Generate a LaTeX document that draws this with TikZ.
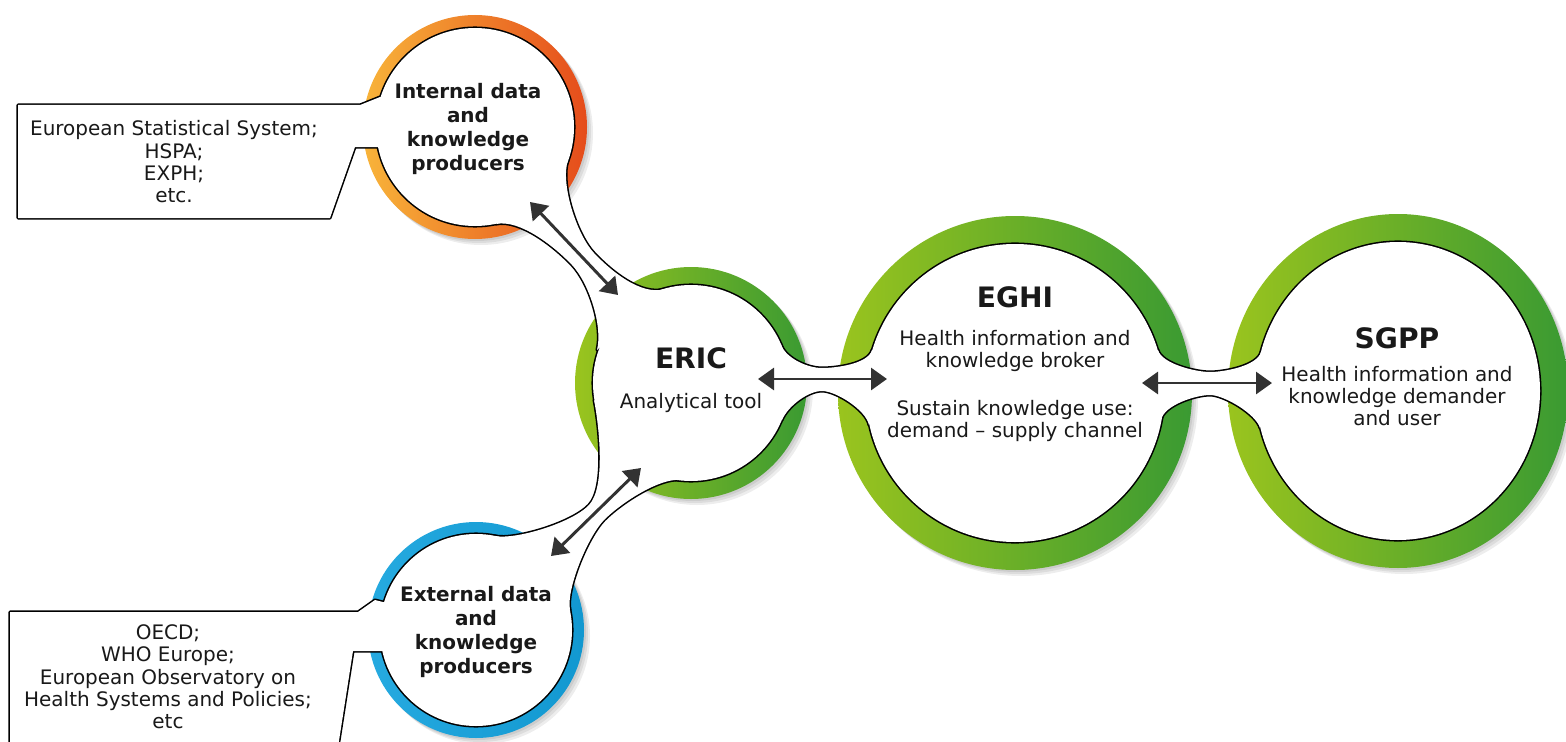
\documentclass[tikz,border=0pt]{standalone}
\usepackage{fontspec}
\setmainfont{DejaVu Sans}
\usepackage{tikz}
\usetikzlibrary{arrows.meta, positioning, calc}

\definecolor{orangeL}{RGB}{248, 180, 58}
\definecolor{orangeR}{RGB}{229, 76, 27}
\definecolor{greenL}{RGB}{154, 196, 30}
\definecolor{greenR}{RGB}{58, 154, 50}
\definecolor{blueL}{RGB}{38, 170, 224}
\definecolor{blueR}{RGB}{18, 152, 208}
\definecolor{arrowgray}{RGB}{50, 50, 50}
\definecolor{textgray}{RGB}{25, 25, 25}

% white inside of the rings, the necks between them and the two call-outs
\newcommand{\holeshapes}[1]{%
  \path[#1] (cInt) circle (99);
  \path[#1] (cExt) circle (96);
  \path[#1] (cEric) circle (98);
  \path[#1] (cEghi) circle (149);
  \path[#1] (cSgpp) ellipse (142 and 149);
  % necks
  \path[#1] (496,224) .. controls (520,219) and (555,247) .. (572,265)
    .. controls (589,283) and (603,326) .. (597,350) -- (665,289)
    .. controls (641,296) and (611,271) .. (594,253)
    .. controls (577,235) and (560,184) .. (568,160) -- cycle;
  \path[#1] (594,400) .. controls (599,425) and (606,487) .. (589,505)
    .. controls (572,523) and (515,540) .. (495,536) -- (570,610)
    .. controls (566,590) and (587,538) .. (604,520)
    .. controls (622,502) and (660,478) .. (680,480) -- cycle;
  \path[#1] (781,345) .. controls (787,359) and (808,368) .. (822,368)
    .. controls (836,368) and (868,364) .. (872,350) -- (869,425)
    .. controls (866,410) and (836,391) .. (822,391)
    .. controls (808,391) and (788,406) .. (782,420) -- cycle;
  \path[#1] (1158,350) .. controls (1162,364) and (1196,372) .. (1210,372)
    .. controls (1224,372) and (1257,366) .. (1261,352) -- (1260,428)
    .. controls (1256,414) and (1224,395) .. (1210,395)
    .. controls (1196,395) and (1164,405) .. (1161,420) -- cycle;
  % call-outs
  \path[#1] (18,105) -- (360,105) -- (380,97) -- (400,100) -- (400,147)
    -- (355,147) -- (330,218) -- (18,218) -- cycle;
  \path[#1] (10,612) -- (358,612) -- (375,600) -- (395,605) -- (395,651)
    -- (353,651) -- (336,760) -- (10,760) -- cycle;
}

\begin{document}
\begin{tikzpicture}[x=0.025cm, y=-0.025cm,
    ringshadow/.style={fill=black, opacity=0.07},
    outline/.style={draw=black, line width=2.2pt, line join=round},
    hole/.style={fill=white},
    titletext/.style={font=\fontsize{20}{24}\selectfont\bfseries, text=textgray},
    boldtext/.style={font=\fontsize{14.2}{17}\selectfont\bfseries, text=textgray, align=center},
    desc/.style={font=\fontsize{14.2}{15.9}\selectfont, text=textgray, align=center},
    biarrow/.style={{Triangle[length=0.4cm, width=0.55cm]}-{Triangle[length=0.4cm, width=0.55cm]}, line width=2.1pt, color=arrowgray}]
  \useasboundingbox (0,0) rectangle (1566,742);
  \clip (0,0) rectangle (1566,742);

  \coordinate (cInt) at (475,127);
  \coordinate (cExt) at (476,630);
  \coordinate (cEric) at (691,383);
  \coordinate (cEghi) at (1015,393);
  \coordinate (cSgpp) at (1398,391);

  % shadows and rings
  \foreach \s in {2,4,6} {
    \fill[ringshadow] ($(cInt)+(\s,\s)$) circle (112);
    \fill[ringshadow] ($(cExt)+(\s,\s)$) circle (108);
    \fill[ringshadow] ($(cEric)+(\s,\s)$) circle (116);
    \fill[ringshadow] ($(cEghi)+(\s,\s)$) circle (177);
    \fill[ringshadow] ($(cSgpp)+(\s,\s)$) ellipse (170 and 177);
  }
  \shade[left color=orangeL, right color=orangeR] (cInt) circle (112);
  \shade[left color=blueL, right color=blueR] (cExt) circle (108);
  \shade[left color=greenL, right color=greenR] (cEric) circle (116);
  \shade[left color=greenL, right color=greenR] (cEghi) circle (177);
  \shade[left color=greenL, right color=greenR] (cSgpp) ellipse (170 and 177);

  \holeshapes{outline}
  \holeshapes{hole}

  % producers
  \node[boldtext] (internal) at (468,129) {Internal data\\and\\knowledge\\producers};
  \node[boldtext] (external) at (476,632) {External data\\and\\knowledge\\producers};
  \node[desc] (intsrc) at (174,162) {European Statistical System;\\HSPA;\\EXPH;\\etc.};
  \node[desc] (extsrc) at (168,677) {OECD;\\WHO Europe;\\European Observatory on\\Health Systems and Policies;\\etc};

  % tool, broker, user
  \node[titletext] (eric) at (691,358) {ERIC};
  \node[desc] (ericdesc) at (691,403) {Analytical tool};
  \node[titletext] (eghi) at (1015,297) {EGHI};
  \node[desc] (eghidesc) at (1015,386) {Health information and\\knowledge broker\\[18pt]Sustain knowledge use:\\demand – supply channel};
  \node[titletext] (sgpp) at (1397,338) {SGPP};
  \node[desc] (sgppdesc) at (1397,396) {Health information and\\knowledge demander\\and user};

  % two-way arrows
  \coordinate (intTip) at (530,202);
  \coordinate (ericTipN) at (618,295);
  \coordinate (ericTipS) at (641,468);
  \coordinate (extTip) at (551,556);
  \coordinate (ericTipE) at (758,379);
  \coordinate (eghiTipW) at (887,379);
  \coordinate (eghiTipE) at (1142,383);
  \coordinate (sgppTipW) at (1272,383);
  \draw[biarrow] (intTip) -- (ericTipN);
  \draw[biarrow] (ericTipS) -- (extTip);
  \draw[biarrow] (ericTipE) -- (eghiTipW);
  \draw[biarrow] (eghiTipE) -- (sgppTipW);
\end{tikzpicture}
\end{document}
